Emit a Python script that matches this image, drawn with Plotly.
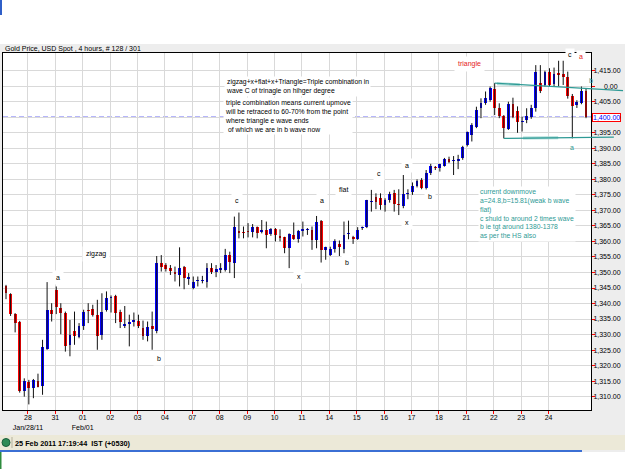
import plotly.graph_objects as go

# ---------------- data ----------------
day_labels = ["28", "31", "01", "02", "03", "04", "07", "08", "09", "10", "11",
              "14", "15", "16", "17", "18", "21", "22", "23", "24"]
day_sublabels = {"28": "Jan/28/11", "01": "Feb/01"}
bars_per_day = 6
first_full_day_bar = 5   # bar index of first 4h bar on Jan 28

opens = [1345.8, 1343.1, 1336.7, 1334.2, 1311.7, 1314.6, 1312.7, 1314.9, 1313.5, 1325.4,
         1337.9, 1344.4, 1338.5, 1336.9, 1326.7, 1331.0, 1329.1, 1332.6, 1338.0, 1338.2,
         1336.4, 1329.9, 1338.0, 1341.7, 1342.3, 1337.4, 1332.9, 1333.5, 1334.2, 1334.5,
         1332.1, 1329.6, 1332.6, 1331.0, 1353.0, 1352.4, 1351.4, 1350.0, 1349.2, 1351.9,
         1348.0, 1344.9, 1347.1, 1347.1, 1346.8, 1351.4, 1350.0, 1350.8, 1350.8, 1355.7,
         1353.2, 1363.4, 1363.2, 1363.2, 1362.9, 1364.5, 1362.9, 1363.7, 1362.3, 1364.0,
         1361.8, 1361.3, 1357.8, 1362.1, 1360.7, 1363.5, 1363.7, 1363.7, 1360.5, 1366.6,
         1357.3, 1355.7, 1357.6, 1359.2, 1357.5, 1362.4, 1361.3, 1360.7, 1364.2, 1364.6,
         1372.8, 1374.4, 1373.9, 1371.8, 1373.4, 1375.7, 1372.1, 1371.4, 1375.3, 1375.8,
         1377.8, 1379.8, 1377.1, 1382.0, 1383.9, 1383.6, 1384.3, 1386.6, 1386.0, 1386.0,
         1386.8, 1391.1, 1394.3, 1397.0, 1402.9, 1404.7, 1405.6, 1409.0, 1403.0, 1400.3,
         1396.3, 1404.2, 1402.0, 1398.5, 1399.0, 1400.2, 1402.9, 1411.0, 1410.4, 1414.5,
         1410.6, 1414.2, 1414.0, 1413.0, 1407.0, 1403.8, 1404.5, 1408.5]
highs = [1346.0, 1343.3, 1336.9, 1334.4, 1315.9, 1315.4, 1315.7, 1317.4, 1328.3, 1346.9,
         1340.1, 1345.5, 1340.1, 1337.4, 1334.7, 1337.4, 1333.7, 1338.0, 1340.1, 1339.6,
         1341.2, 1343.3, 1343.9, 1342.6, 1342.8, 1338.0, 1339.2, 1336.4, 1337.1, 1336.4,
         1334.5, 1334.2, 1337.4, 1355.3, 1355.6, 1353.0, 1352.4, 1351.9, 1358.1, 1352.1,
         1349.8, 1348.7, 1348.7, 1348.9, 1353.0, 1353.0, 1352.4, 1353.0, 1357.6, 1356.7,
         1368.0, 1369.3, 1364.8, 1365.9, 1365.6, 1364.8, 1366.9, 1366.4, 1364.3, 1364.3,
         1363.9, 1361.5, 1362.6, 1366.1, 1363.7, 1366.4, 1364.3, 1364.8, 1368.2, 1366.9,
         1358.3, 1358.3, 1360.7, 1360.3, 1366.4, 1366.7, 1361.8, 1364.6, 1364.8, 1373.4,
         1376.6, 1375.5, 1375.5, 1373.9, 1376.0, 1376.6, 1376.8, 1381.4, 1376.8, 1379.0,
         1380.0, 1380.4, 1383.0, 1385.0, 1384.3, 1385.0, 1386.9, 1387.3, 1387.5, 1387.9,
         1390.8, 1395.4, 1398.1, 1403.4, 1406.1, 1408.3, 1409.9, 1411.0, 1404.5, 1400.7,
         1405.0, 1406.3, 1403.5, 1400.2, 1402.9, 1404.0, 1416.8, 1416.8, 1415.0, 1415.8,
         1416.0, 1418.2, 1418.2, 1414.7, 1407.5, 1405.5, 1409.9, 1409.3]
lows = [1341.4, 1336.0, 1330.7, 1311.3, 1310.0, 1307.5, 1309.5, 1313.0, 1310.6, 1325.1,
        1334.2, 1336.6, 1330.1, 1324.5, 1323.0, 1326.7, 1328.8, 1331.5, 1333.7, 1335.8,
        1325.1, 1328.3, 1337.4, 1337.1, 1333.7, 1332.1, 1332.1, 1326.2, 1332.6, 1332.1,
        1328.3, 1327.8, 1325.1, 1330.4, 1350.3, 1350.3, 1349.2, 1347.1, 1345.5, 1344.6,
        1346.0, 1344.6, 1345.5, 1346.5, 1345.1, 1349.5, 1348.5, 1349.8, 1350.3, 1349.8,
        1348.2, 1361.0, 1361.0, 1361.3, 1361.3, 1361.0, 1362.6, 1357.8, 1361.8, 1360.0,
        1360.0, 1356.2, 1351.4, 1360.5, 1359.6, 1361.6, 1362.1, 1357.3, 1357.8, 1353.2,
        1354.1, 1355.3, 1356.4, 1355.3, 1356.2, 1360.7, 1359.2, 1360.5, 1363.7, 1364.3,
        1369.6, 1370.4, 1370.2, 1369.6, 1372.5, 1369.6, 1368.5, 1370.7, 1373.6, 1375.0,
        1377.4, 1376.8, 1376.6, 1381.4, 1383.0, 1382.5, 1384.1, 1385.2, 1381.4, 1383.3,
        1386.3, 1390.6, 1392.2, 1396.5, 1399.7, 1404.0, 1405.0, 1400.7, 1399.7, 1393.2,
        1395.9, 1399.7, 1395.0, 1395.4, 1398.1, 1399.5, 1401.8, 1407.8, 1409.9, 1409.9,
        1410.0, 1409.9, 1410.4, 1406.0, 1393.2, 1403.0, 1404.2, 1399.7]
closes = [1343.3, 1336.6, 1333.7, 1311.7, 1314.9, 1312.7, 1315.4, 1313.1, 1325.9, 1337.9,
          1336.6, 1339.0, 1336.9, 1326.2, 1329.9, 1329.4, 1332.6, 1337.2, 1337.6, 1336.4,
          1329.4, 1337.2, 1341.7, 1342.2, 1336.9, 1333.9, 1333.1, 1334.2, 1334.7, 1332.9,
          1329.6, 1332.3, 1331.8, 1353.0, 1351.9, 1351.1, 1350.6, 1349.6, 1351.4, 1348.1,
          1348.4, 1346.8, 1347.3, 1347.3, 1351.4, 1350.3, 1351.1, 1351.4, 1355.7, 1353.5,
          1364.8, 1362.6, 1362.6, 1362.9, 1364.8, 1362.6, 1363.7, 1362.1, 1364.1, 1362.1,
          1361.2, 1357.8, 1362.4, 1360.7, 1363.4, 1364.0, 1363.8, 1360.5, 1366.4, 1357.3,
          1358.1, 1357.5, 1360.0, 1358.3, 1362.1, 1362.6, 1360.7, 1363.7, 1364.6, 1373.2,
          1373.1, 1372.8, 1371.8, 1373.4, 1375.3, 1372.1, 1371.8, 1375.3, 1375.7, 1377.8,
          1379.5, 1377.1, 1382.2, 1384.3, 1383.5, 1384.8, 1386.7, 1385.7, 1386.3, 1386.5,
          1390.3, 1395.1, 1397.5, 1402.4, 1404.7, 1406.1, 1409.3, 1403.0, 1400.5, 1396.5,
          1404.3, 1400.2, 1398.5, 1398.9, 1400.5, 1402.9, 1414.7, 1408.5, 1414.7, 1410.4,
          1414.0, 1413.6, 1413.0, 1407.0, 1403.5, 1405.0, 1408.5, 1400.2]

price_ticks = list(range(1310, 1420, 5))
current_price = 1400.00
trendline_value_label = "0.00"
# triangle boundary lines: (bar index, price) pairs
upper_line = [(107.0, 1411.0), (135.1, 1408.6)]
lower_line = [(109.0, 1393.2), (133.1, 1393.6)]
upper_hilite = [(107.5, 1410.8), (112.5, 1410.5)]
lower_hilite = [(113.2, 1393.3), (120.9, 1393.4)]

wave_labels = [("zigzag", 19.7, 1355.9), ("a", 11.45, 1348.3), ("b", 33.6, 1322.3),
               ("c", 50.5, 1373.3), ("x", 64.2, 1348.7), ("a", 69.1, 1373.1),
               ("flat", 73.9, 1376.6), ("b", 74.7, 1353.1), ("c", 81.7, 1382.0),
               ("a", 87.7, 1384.4), ("x", 87.7, 1366.0), ("b", 92.8, 1374.6)]

note1 = ["zigzag+x+flat+x+Triangle=Triple combination in",
         "wave C of trinagle on hihger degree"]
note2 = ["triple combination means current upmove",
         "will be retraced to 60-70% from the point",
         "where triangle e wave ends",
         "&nbsp;of which we are in b wave now"]
note3 = ["current downmove", "a=24.8,b=15.81(weak b wave", "flat)",
         "c shuld to around 2 times wave", "b ie tgt around 1380-1378",
         "as per the HS also"]

title_text = "Gold Price, USD Spot , 4 hours, # 128 / 301"
status_text = "25 Feb 2011 17:19:44  IST (+0530)"

# ---------------- layout constants ----------------
W, H = 625, 469
ML, MR, MT, MB = 3, 34, 53, 59
PW, PH = W - ML - MR, H - MT - MB
XR = [-0.657, 128.09]
YR = [1305.7, 1420.7]
FONT = "Liberation Sans, Arial, sans-serif"
TEAL = "#2E9A95"


def pxx(px):
    return (px - ML) / PW


def pyy(py):
    return (H - MB - py) / PH


def domx(j):
    return (j - XR[0]) / (XR[1] - XR[0])


n = len(opens)
idx = list(range(n))

# wick segments
wx, wy = [], []
for i in idx:
    wx += [i, i, None]
    wy += [lows[i], highs[i], None]

body_base = [min(o, c) for o, c in zip(opens, closes)]
body_h = [max(abs(c - o), 0.35) for o, c in zip(opens, closes)]
body_col = ["#0000FF" if c >= o else "#FF0000" for o, c in zip(opens, closes)]

fig = go.Figure()
fig.add_trace(go.Scatter(x=wx, y=wy, mode="lines",
                         line=dict(color="#111111", width=1),
                         hoverinfo="skip", showlegend=False))
fig.add_trace(go.Bar(x=idx, y=body_h, base=body_base, width=0.62,
                     marker=dict(color=body_col, line=dict(width=0)),
                     hoverinfo="skip", showlegend=False))

# ticks
tickvals_x = [first_full_day_bar + k * bars_per_day - 0.2 for k in range(len(day_labels))]
ticktext_x = [d + ("<br>" + day_sublabels[d] if d in day_sublabels else "") for d in day_labels]
ticktext_y = ["" if p in (1400, 1410) else f"{p:,.2f}" for p in price_ticks]

shapes = []
# background panels outside the plot
shapes.append(dict(type="rect", xref="paper", yref="paper", x0=pxx(0), x1=pxx(W),
                   y0=pyy(44), y1=pyy(0), fillcolor="white", line_width=0, layer="below"))
shapes.append(dict(type="rect", xref="paper", yref="paper", x0=pxx(0), x1=pxx(2),
                   y0=pyy(15), y1=pyy(0), fillcolor="#2F5FC8", line_width=0, layer="below"))
shapes.append(dict(type="rect", xref="paper", yref="paper", x0=pxx(0), x1=pxx(W),
                   y0=pyy(450), y1=pyy(435), fillcolor="#ECE9D8", line_width=0, layer="below"))
shapes.append(dict(type="rect", xref="paper", yref="paper", x0=pxx(0), x1=pxx(W),
                   y0=pyy(H), y1=pyy(452), fillcolor="white", line_width=0, layer="below"))
shapes.append(dict(type="rect", xref="paper", yref="paper", x0=pxx(0), x1=pxx(582),
                   y0=pyy(452), y1=pyy(450), fillcolor="#3B6FD4", line_width=0, layer="below"))
shapes.append(dict(type="rect", xref="paper", yref="paper", x0=pxx(0), x1=pxx(1.5),
                   y0=pyy(H), y1=pyy(452), fillcolor="#2E8B3E", line_width=0, layer="below"))
shapes.append(dict(type="circle", xref="paper", yref="paper", x0=pxx(2), x1=pxx(10),
                   y0=pyy(446.5), y1=pyy(438.5), fillcolor="#2E8B57",
                   line=dict(color="#1B5E3B", width=1)))
shapes.append(dict(type="line", xref="paper", yref="paper", x0=pxx(12), x1=pxx(12),
                   y0=pyy(448), y1=pyy(437), line=dict(color="#B5B19C", width=1)))

# current price dashed line
shapes.append(dict(type="line", xref="paper", yref="y", x0=0, x1=1,
                   y0=current_price, y1=current_price,
                   line=dict(color="#6E6EF5", width=1.5, dash="5px,3px"), layer="below"))

# triangle lines
for seg, col, wdt in [(upper_hilite, "#A9DAD6", 3), (lower_hilite, "#A9DAD6", 3),
                      (upper_line, TEAL, 1.2), (lower_line, TEAL, 1.2)]:
    (j0, p0), (j1, p1) = seg
    shapes.append(dict(type="line", xref="paper", yref="y", x0=domx(j0), x1=domx(j1),
                       y0=p0, y1=p1, line=dict(color=col, width=wdt)))

ann = []
ann.append(dict(text=title_text, xref="paper", yref="paper", x=pxx(3), y=pyy(49),
                xanchor="left", yanchor="middle", showarrow=False,
                font=dict(family=FONT, size=7, color="black")))
ann.append(dict(text="<b>" + status_text + "</b>", xref="paper", yref="paper",
                x=pxx(13), y=pyy(443), xanchor="left", yanchor="middle", showarrow=False,
                font=dict(family=FONT, size=7.3, color="black")))

for t, j, p in wave_labels:
    ann.append(dict(text=t, x=j, y=p, xref="x", yref="y", showarrow=False,
                    font=dict(family=FONT, size=7, color="black"),
                    bgcolor="white", borderpad=3))

ann.append(dict(text="triangle", x=101.4, y=1417.0, xref="x", yref="y", showarrow=False,
                font=dict(family=FONT, size=7, color="#E52222"), bgcolor="white", borderpad=3))
ann.append(dict(text="c", x=123.6, y=1420.2, xref="x", yref="y", showarrow=False,
                font=dict(family=FONT, size=7, color="black"), bgcolor="white", borderpad=2))
ann.append(dict(text="a", x=125.9, y=1419.5, xref="x", yref="y", showarrow=False,
                font=dict(family=FONT, size=7, color="#E52222"), bgcolor="white", borderpad=2))
ann.append(dict(text="b", x=128.0, y=1411.8, xref="x", yref="y", showarrow=False,
                font=dict(family=FONT, size=7, color=TEAL)))
ann.append(dict(text="a", x=123.9, y=1390.3, xref="x", yref="y", showarrow=False,
                font=dict(family=FONT, size=7, color=TEAL)))

ann.append(dict(text="<br>".join(note1), x=47.7, y=1413.4, xref="x", yref="y",
                xanchor="left", yanchor="top", align="left", showarrow=False,
                font=dict(family=FONT, size=6.8, color="black"), bgcolor="white", borderpad=1))
ann.append(dict(text="<br>".join(note2), x=47.5, y=1406.6, xref="x", yref="y",
                xanchor="left", yanchor="top", align="left", showarrow=False,
                font=dict(family=FONT, size=6.8, color="black"), bgcolor="white", borderpad=1))
ann.append(dict(text="<br>".join(note3), x=103.4, y=1378.0, xref="x", yref="y",
                xanchor="left", yanchor="top", align="left", showarrow=False,
                font=dict(family=FONT, size=6.8, color=TEAL), bgcolor="white", borderpad=1))

ann.append(dict(text=trendline_value_label, xref="paper", yref="y", x=pxx(620), y=1410,
                xanchor="right", yanchor="middle", showarrow=False,
                font=dict(family=FONT, size=7, color="black")))
ann.append(dict(text=f"{current_price:,.2f}", xref="paper", yref="y", x=pxx(620.5), y=current_price,
                xanchor="right", yanchor="middle", showarrow=False,
                font=dict(family=FONT, size=7, color="#0000FF"), bgcolor="white",
                bordercolor="#FF0000", borderwidth=1, borderpad=0))

fig.update_layout(
    width=W, height=H, autosize=False,
    margin=dict(l=ML, r=MR, t=MT, b=MB, pad=0),
    paper_bgcolor="#EDEDED", plot_bgcolor="white",
    showlegend=False, barmode="overlay", bargap=0,
    font=dict(family=FONT, size=7, color="black"),
    shapes=shapes, annotations=ann,
    xaxis=dict(range=XR, tickmode="array", tickvals=tickvals_x, ticktext=ticktext_x,
               showgrid=True, gridcolor="#D9D9D9", gridwidth=1, zeroline=False,
               showline=True, linecolor="black", linewidth=1, mirror=True,
               ticks="outside", ticklen=3, tickcolor="#FF0000", tickwidth=1,
               ticklabelstandoff=-2,
               tickfont=dict(family=FONT, size=7, color="black"), fixedrange=True),
    yaxis=dict(range=YR, side="right", tickmode="array", tickvals=price_ticks,
               ticktext=ticktext_y, showgrid=True, gridcolor="#D9D9D9", gridwidth=1,
               zeroline=False, showline=True, linecolor="black", linewidth=1, mirror=True,
               ticks="outside", ticklen=3, tickcolor="#FF0000", tickwidth=1,
               ticklabelstandoff=-3,
               tickfont=dict(family=FONT, size=7, color="black"), fixedrange=True),
)

fig.write_html("out.html", config={"displayModeBar": False, "staticPlot": True})
